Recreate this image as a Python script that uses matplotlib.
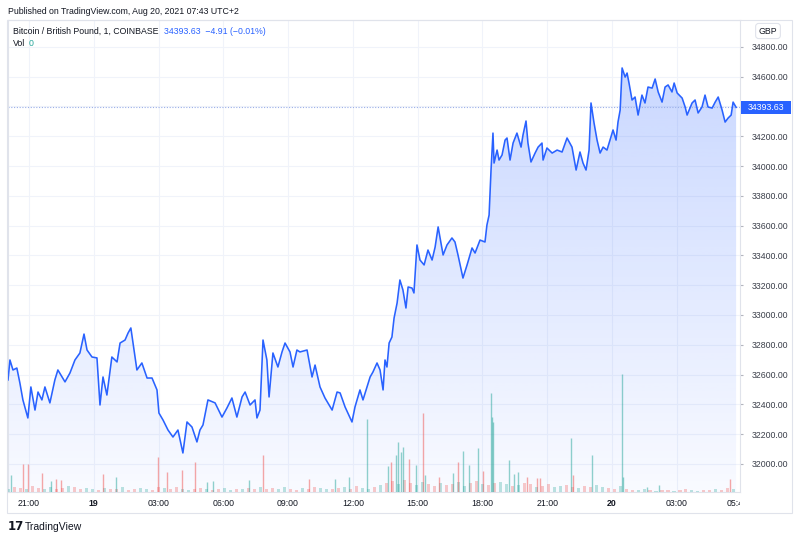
import numpy as np
import matplotlib.pyplot as plt
import matplotlib.transforms as mtransforms
from matplotlib.patches import Rectangle, PathPatch

# BTC/GBP, COINBASE, 1-minute closes
# time in hours from 18 Aug 2021 00:00 (24 = 19 Aug 00:00, 48 = 20 Aug 00:00)
time_h = [
    20.03, 20.12, 20.26, 20.44, 20.58, 20.72, 20.95, 21.09, 21.28, 21.42,
    21.60, 21.74, 21.97, 22.20, 22.34, 22.67, 22.90, 23.13, 23.36, 23.55,
    23.69, 23.92, 24.15, 24.29, 24.43, 24.61, 24.84, 25.08, 25.22, 25.45,
    25.59, 25.72, 25.82, 26.00, 26.23, 26.47, 26.70, 26.93, 27.02, 27.21,
    27.44, 27.67, 27.90, 28.13, 28.32, 28.55, 28.78, 28.92, 29.06, 29.29,
    29.62, 29.94, 30.17, 30.40, 30.63, 30.87, 31.01, 31.24, 31.47, 31.56,
    31.70, 31.84, 32.02, 32.12, 32.30, 32.53, 32.72, 32.86, 33.09, 33.23,
    33.41, 33.55, 33.88, 34.11, 34.25, 34.48, 34.71, 35.04, 35.27, 35.41,
    35.64, 35.96, 36.10, 36.33, 36.47, 36.80, 36.93, 37.12, 37.26, 37.40,
    37.49, 37.58, 37.68, 37.81, 37.91, 38.05, 38.18, 38.32, 38.46, 38.56,
    38.74, 38.83, 38.97, 39.11, 39.30, 39.48, 39.67, 39.81, 39.95, 40.18,
    40.36, 40.59, 40.73, 40.87, 41.10, 41.29, 41.52, 41.66, 41.89, 42.12,
    42.21, 42.31, 42.40, 42.45, 42.49, 42.54, 42.68, 42.77, 42.91, 43.05,
    43.14, 43.28, 43.42, 43.60, 43.79, 43.88, 44.02, 44.11, 44.25, 44.44,
    44.58, 44.76, 44.81, 44.99, 45.23, 45.46, 45.69, 45.92, 46.15, 46.34,
    46.52, 46.66, 46.80, 46.94, 47.03, 47.17, 47.31, 47.45, 47.59, 47.77,
    47.91, 48.05, 48.19, 48.28, 48.38, 48.47, 48.61, 48.70, 48.79, 48.93,
    49.07, 49.21, 49.39, 49.53, 49.67, 49.86, 50.00, 50.14, 50.32, 50.46,
    50.60, 50.78, 50.88, 51.02, 51.25, 51.39, 51.48, 51.71, 51.85, 51.99,
    52.17, 52.31, 52.45, 52.64, 52.78, 52.92, 53.10, 53.24, 53.38, 53.52,
    53.61, 53.75,
]
price = [
    32564, 32698, 32631, 32644, 32544, 32430, 32309, 32517, 32362, 32483,
    32430, 32517, 32410, 32564, 32631, 32551, 32611, 32698, 32745, 32872,
    32765, 32718, 32712, 32396, 32584, 32463, 32718, 32685, 32812, 32832,
    32879, 32913, 32812, 32631, 32678, 32577, 32577, 32497, 32342, 32295,
    32228, 32181, 32228, 32074, 32282, 32248, 32148, 32228, 32262, 32430,
    32410, 32315, 32376, 32443, 32315, 32450, 32483, 32396, 32430, 32309,
    32362, 32832, 32698, 32450, 32745, 32651, 32752, 32812, 32752, 32651,
    32765, 32752, 32765, 32584, 32664, 32517, 32443, 32362, 32483, 32477,
    32383, 32282, 32383, 32497, 32430, 32584, 32617, 32678, 32631, 32497,
    32698, 32651, 32812, 32852, 32980, 33081, 33235, 33168, 33047, 33188,
    33181, 33148, 33470, 33369, 33336, 33436, 33369, 33456, 33591, 33403,
    33470, 33517, 33490, 33403, 33248, 33336, 33450, 33416, 33503, 33490,
    33604, 33671, 33973, 34107, 34221, 34020, 34107, 34040, 34074, 34174,
    34188, 34040, 34154, 34221, 34127, 34208, 34302, 34154, 34027, 34087,
    34127, 34154, 34040, 34121, 34087, 34107, 34094, 34188, 34127, 33973,
    34094, 34020, 33973, 34107, 34423, 34289, 34174, 34087, 34127, 34107,
    34174, 34242, 34174, 34295, 34376, 34658, 34597, 34624, 34557, 34443,
    34463, 34342, 34476, 34423, 34530, 34523, 34584, 34497, 34429, 34530,
    34544, 34497, 34557, 34490, 34456, 34396, 34342, 34423, 34443, 34356,
    34396, 34476, 34396, 34389, 34429, 34463, 34376, 34295, 34322, 34342,
    34429, 34393.63,
]
last_price = 34393.63

# volume spikes (time in hours, size, up=1 / down=0)
spike_time = [20.17, 20.72, 20.95, 21.60, 22.02, 22.25, 22.48, 24.43, 25.03, 26.98,
              27.39, 28.09, 28.69, 29.25, 29.52, 31.19, 31.84, 33.97, 35.17, 35.82,
              36.66, 37.63, 37.77, 38.00, 38.09, 38.23, 38.32, 38.60, 38.93, 39.25,
              39.34, 39.99, 40.64, 40.87, 41.10, 41.38, 41.80, 42.03, 42.40, 42.45,
              42.49, 43.23, 43.46, 43.65, 44.07, 44.53, 44.67, 46.11, 46.20, 47.08,
              48.47, 48.52, 49.63, 50.18, 53.47]
spike_vol = [1.7, 2.8, 2.8, 1.9, 1.1, 1.3, 1.2, 1.8, 1.5, 3.5,
             2.0, 2.2, 3.0, 1.0, 1.1, 1.2, 3.7, 1.3, 1.3, 1.5,
             7.3, 2.6, 3.0, 3.7, 5.0, 4.0, 4.5, 3.3, 2.7, 7.9,
             1.7, 1.5, 1.9, 3.0, 4.1, 2.7, 4.4, 2.1, 9.9, 7.5,
             7.0, 3.2, 1.8, 2.0, 1.5, 1.4, 1.4, 5.4, 1.7, 3.7,
             11.8, 1.5, 0.5, 0.7, 1.3]
spike_up = [1, 0, 0, 0, 1, 0, 0, 0, 1, 0,
            0, 0, 0, 1, 1, 1, 0, 0, 1, 1,
            1, 1, 0, 1, 1, 1, 1, 0, 1, 0,
            1, 0, 1, 0, 1, 1, 1, 0, 1, 1,
            1, 1, 1, 1, 0, 0, 0, 1, 0, 1,
            1, 1, 1, 1, 0]

# background volume, evenly spread from the first to the last bar
vol_base = [0.3, 0.5, 0.4, 0.3, 0.6, 0.4, 0.3, 0.5, 0.3, 0.4, 0.6, 0.5, 0.3, 0.4, 0.3,
            0.2, 0.4, 0.3, 0.3, 0.5, 0.2, 0.3, 0.4, 0.3, 0.2, 0.5,
            0.4, 0.3, 0.5, 0.3, 0.2, 0.3, 0.4, 0.3, 0.2, 0.3, 0.4, 0.2, 0.3, 0.3, 0.4, 0.3,
            0.5, 0.3, 0.4, 0.3, 0.5, 0.3, 0.2, 0.4, 0.3, 0.5, 0.4, 0.3, 0.3, 0.4, 0.5, 0.3,
            0.6, 0.4, 0.3, 0.5,
            0.7, 0.9, 1.1, 0.8, 1.2, 0.9, 0.7, 1.0, 0.8, 0.6, 0.9, 0.7, 0.8, 1.0, 0.6,
            0.9, 1.1, 0.8, 0.7, 0.9, 1.0, 0.8, 0.6, 0.7, 0.9, 0.8, 0.5, 0.6, 0.8, 0.5,
            0.6, 0.7, 0.5, 0.4, 0.6, 0.5, 0.7,
            0.5, 0.4, 0.3, 0.6, 0.3, 0.2, 0.2, 0.3, 0.2, 0.1, 0.2, 0.2, 0.1, 0.2, 0.3,
            0.2, 0.1, 0.2, 0.2, 0.3, 0.2, 0.4, 0.3]
base_pattern = "uddudduuddudduududduddu"

tick_pos = [21, 24, 27, 30, 33, 36, 39, 42, 45, 48, 51]
tick_lab = ["21:00", "19", "03:00", "06:00", "09:00", "12:00", "15:00", "18:00", "21:00", "20", "03:00"]
price_ticks = list(range(32000, 34801, 200))

LINE = "#2962ff"
UP = "#26a69a"
DOWN = "#ef5350"
TXT = "#131722"
BORDER = "#e0e3eb"
FONT = "Liberation Sans"
FS = 6.3

W, H = 800, 539
fig = plt.figure(figsize=(8, 5.39), dpi=100)


def fx(px):
    return px / W


def fy(py):
    return 1 - py / H


ax = fig.add_axes([fx(8), fy(492), fx(732), 472 / H])
x0, x1 = 20.03, 53.93
y0, y1 = 31812, 34980

# volume on its own scale, bottom quarter of the pane
axv = ax.twinx()
axv.set_ylim(0, 47.2)
axv.set_xlim(x0, x1)
axv.axis("off")
base_t = np.linspace(20.05, 53.65, len(vol_base))
base_c = [UP if base_pattern[i % len(base_pattern)] == "u" else DOWN for i in range(len(vol_base))]
axv.bar(base_t, vol_base, width=0.14, color=base_c, alpha=0.3, lw=0)
axv.vlines(spike_time, 0, spike_vol, colors=[UP if u else DOWN for u in spike_up],
           lw=1.0, alpha=0.5)

# area gradient under the line
fill = ax.fill_between(time_h, price, y0, color="none", lw=0)
clip = PathPatch(fill.get_paths()[0], transform=ax.transData, fc="none", ec="none")
ax.add_patch(clip)
alpha = np.linspace(0.03, 0.25, 256)
rgba = np.zeros((256, 1, 4))
rgba[..., 0] = 41 / 255
rgba[..., 1] = 98 / 255
rgba[..., 2] = 1.0
rgba[:, 0, 3] = alpha
img = ax.imshow(rgba, extent=[x0, x1, y0, max(price)], origin="lower", aspect="auto", zorder=1)
img.set_clip_path(clip)

ax.plot(time_h, price, color=LINE, lw=1.15, zorder=3, solid_joinstyle="round")
ax.axhline(last_price, color="#9aaee8", lw=0.8, ls=(0, (1, 1.5)), zorder=2)

ax.set_xlim(x0, x1)
ax.set_ylim(y0, y1)
ax.set_xticks(tick_pos)
ax.set_xticklabels(tick_lab)
for lab in ax.get_xticklabels():
    lab.set_family(FONT)
    lab.set_fontsize(FS)
    lab.set_color(TXT)
    if ":" not in lab.get_text():
        lab.set_fontweight("bold")
ax.tick_params(axis="x", length=0, pad=5)

# the 34400 label sits under the last-price tag, so it is left blank
ax.yaxis.tick_right()
ax.set_yticks(price_ticks)
ax.set_yticklabels(["" if v == 34400 else f"{v:.2f}" for v in price_ticks])
for lab in ax.get_yticklabels():
    lab.set_family(FONT)
    lab.set_fontsize(FS)
    lab.set_color("#3b3f4a")
ax.tick_params(axis="y", which="both", left=False, labelleft=False, right=True, labelright=True,
               length=2.5, width=0.8, color="#b2b5be", pad=6)
ax.grid(color="#f0f3fa", lw=0.8)
ax.set_axisbelow(True)
for s in ax.spines.values():
    s.set_color(BORDER)
    s.set_linewidth(0.8)

# last price label on the price scale
blend = mtransforms.blended_transform_factory(fig.transFigure, ax.transData)
ax.add_patch(Rectangle((fx(741), last_price - 42), fx(50), 84, transform=blend,
                       fc=LINE, ec="none", clip_on=False, zorder=5))
ax.text(fx(766), last_price, f"{last_price:.2f}", transform=blend, ha="center", va="center",
        color="white", fontsize=FS, family=FONT, zorder=6, clip_on=False)

# outer frame
fig.patches.append(Rectangle((fx(7), fy(513)), fx(785), 493 / H, transform=fig.transFigure,
                             fill=False, ec=BORDER, lw=0.8))

# texts
fig.text(fx(8), fy(11), "Published on TradingView.com, Aug 20, 2021 07:43 UTC+2",
         va="center", ha="left", fontsize=FS, family=FONT, color=TXT)
fig.text(fx(13), fy(31), "Bitcoin / British Pound, 1, COINBASE",
         va="center", ha="left", fontsize=FS, family=FONT, color=TXT)
fig.text(fx(164), fy(31), "34393.63  \u22124.91 (\u22120.01%)",
         va="center", ha="left", fontsize=FS, family=FONT, color=LINE)
fig.text(fx(13), fy(44), "Vol", va="center", ha="left", fontsize=FS, family=FONT, color=TXT)
fig.text(fx(29), fy(44), "0", va="center", ha="left", fontsize=FS, family=FONT, color=UP)
fig.text(fx(768), fy(31), "GBP", va="center", ha="center", fontsize=FS, family=FONT, color=TXT,
         bbox=dict(boxstyle="round,pad=0.35", fc="white", ec=BORDER, lw=0.8))

clip_box = mtransforms.TransformedBbox(mtransforms.Bbox([[0, 0], [fx(740), 1]]), fig.transFigure)
t_end = fig.text(fx(727), fy(503), "05:40", va="center", ha="left", fontsize=FS,
                 family=FONT, color=TXT)
t_end.set_clip_box(clip_box)
t_end.set_clip_on(True)

fig.text(fx(8), fy(527), "17", va="center", ha="left", fontsize=8.5, fontweight="heavy",
         family="DejaVu Sans", color=TXT)
fig.text(fx(25), fy(527), "TradingView", va="center", ha="left", fontsize=7.5,
         family=FONT, color=TXT)

fig.savefig("out.png", dpi=100, facecolor="white")
